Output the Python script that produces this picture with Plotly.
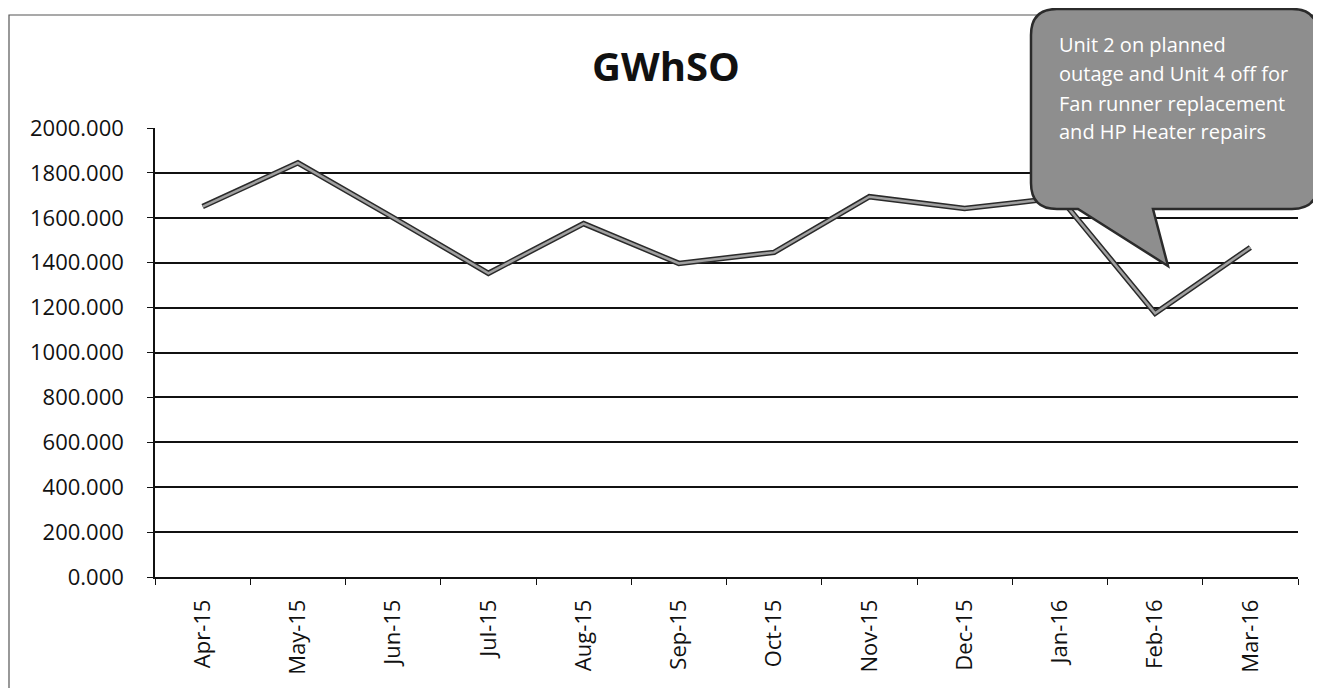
import plotly.graph_objects as go

months = ["Apr-15", "May-15", "Jun-15", "Jul-15", "Aug-15", "Sep-15",
          "Oct-15", "Nov-15", "Dec-15", "Jan-16", "Feb-16", "Mar-16"]
gwhso = [1650, 1845, 1601, 1353, 1574, 1397, 1446, 1694, 1641, 1690, 1175, 1468]
y_ticks = [0, 200, 400, 600, 800, 1000, 1200, 1400, 1600, 1800, 2000]
callout_lines = ["Unit 2 on planned", "outage and Unit 4 off for",
                 "Fan runner replacement", "and HP Heater repairs"]

# page body has an 8px margin; size the figure so it fills the 1321x688 window
OFF = 8
W, H = 1321 - OFF, 688 - OFF
L, R, T, B = 155 - OFF, 1321 - 1298, 128 - OFF, 688 - 577
PW, PH = W - L - R, H - T - B

def px(x):
    return (x - OFF - L) / PW

def py(y):
    return (H - B - (y - OFF)) / PH

FONT = "Open Sans"

fig = go.Figure()
fig.add_trace(go.Scatter(x=months, y=gwhso, mode="lines",
                         line=dict(color="#2a2a2a", width=5.5), hoverinfo="skip",
                         showlegend=False))
fig.add_trace(go.Scatter(x=months, y=gwhso, mode="lines",
                         line=dict(color="#a0a0a0", width=2.5),
                         showlegend=False, name="GWhSO"))

cl, cr, ct, cb, r = 1031, 1318, 9, 209, 26

def P(x, y):
    return f"{px(x):.5f},{py(y):.5f}"

path = (f"M {P(cl + r, ct)} L {P(cr - r, ct)} Q {P(cr, ct)} {P(cr, ct + r)} "
        f"L {P(cr, cb - r)} Q {P(cr, cb)} {P(cr - r, cb)} "
        f"L {P(1153, cb)} L {P(1168, 266)} L {P(1078, cb)} "
        f"L {P(cl + r, cb)} Q {P(cl, cb)} {P(cl, cb - r)} "
        f"L {P(cl, ct + r)} Q {P(cl, ct)} {P(cl + r, ct)} Z")

shapes = [
    dict(type="rect", xref="paper", yref="paper", x0=px(9), x1=px(1317),
         y0=py(700), y1=py(15), line=dict(color="#555", width=1.2),
         fillcolor="rgba(0,0,0,0)", layer="below"),
    dict(type="path", xref="paper", yref="paper", path=path,
         fillcolor="#8e8e8e", line=dict(color="#2b2b2b", width=2.5), layer="above"),
]

annotations = []
line_y = [45, 74, 103, 131]
for txt, yy in zip(callout_lines, line_y):
    annotations.append(dict(text=txt, xref="paper", yref="paper", x=px(1057), y=py(yy),
                            xanchor="left", yanchor="middle", showarrow=False,
                            font=dict(family=FONT, size=20, color="white")))

fig.update_layout(
    width=W, height=H,
    margin=dict(l=L, r=R, t=T, b=B, autoexpand=False),
    paper_bgcolor="white", plot_bgcolor="white",
    title=dict(text="<b>GWhSO</b>", x=(666 - OFF) / W, xanchor="center",
               y=1 - (67 - OFF) / H, yanchor="middle",
               font=dict(family=FONT, size=40, color="#111")),
    shapes=shapes, annotations=annotations,
    showlegend=False,
)
fig.update_xaxes(type="category", range=[-0.5, len(months) - 0.5],
                 tickson="boundaries", ticks="outside", ticklen=6,
                 tickcolor="#111", showline=True, linecolor="#111", linewidth=1.5,
                 showgrid=False, tickangle=-90, ticklabelstandoff=12,
                 tickfont=dict(family=FONT, size=22, color="#111"))
fig.update_yaxes(range=[0, 2000], tickvals=y_ticks, tickformat=".3f",
                 ticks="outside", ticklen=6, tickcolor="#111",
                 showline=True, linecolor="#111", linewidth=1.5,
                 showgrid=True, gridcolor="#111", gridwidth=1.5,
                 zeroline=False, ticklabelstandoff=19,
                 tickfont=dict(family=FONT, size=22, color="#111"))

fig.write_html("out.html")
